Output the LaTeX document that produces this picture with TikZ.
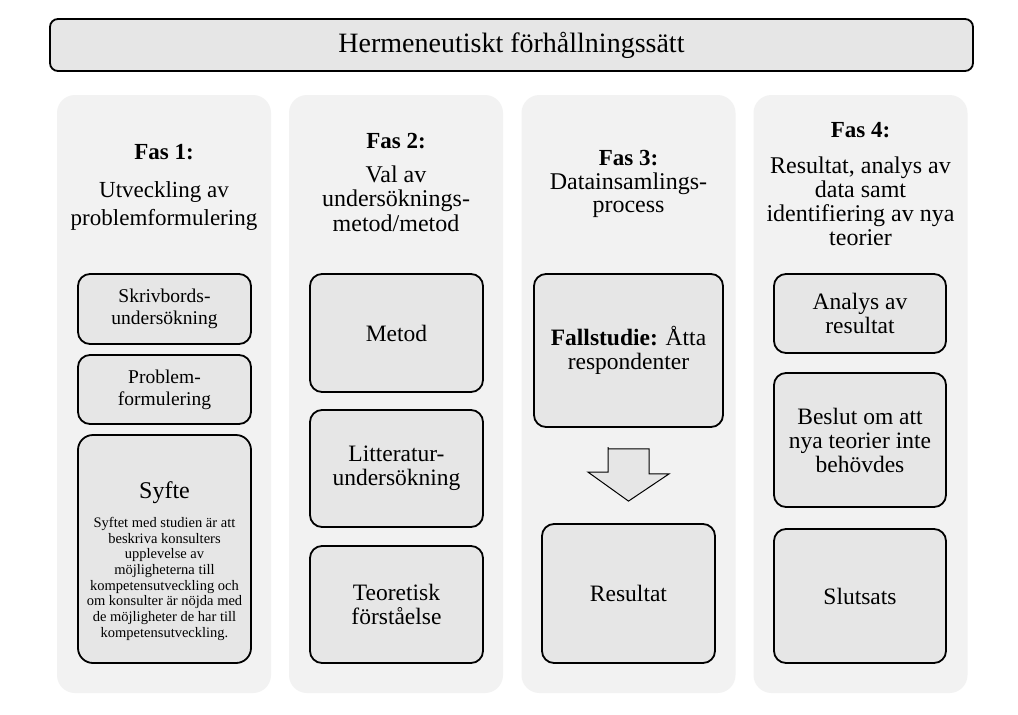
\documentclass[tikz,border=0pt]{standalone}
\usepackage{fontspec}
\setmainfont{Liberation Serif}
\usepackage{tikz}
\usetikzlibrary{positioning,calc}
\definecolor{panelgray}{HTML}{F2F2F2}
\definecolor{boxgray}{HTML}{E6E6E6}
\tikzset{
  kolumn/.style={fill=panelgray,rounded corners=18pt,minimum width=214pt,
            minimum height=598pt,inner sep=0pt},
  ruta/.style={draw,line width=1.8pt,fill=boxgray,rounded corners=12pt,
            align=center,inner sep=0pt,minimum width=173pt,
            font=\fontsize{23.5}{24}\selectfont},
  litenruta/.style={ruta,font=\fontsize{19.5}{22}\selectfont},
  rubrik/.style={anchor=base,inner sep=0pt,font=\fontsize{23}{24}\selectfont\bfseries},
  rubriktext/.style={anchor=north,inner sep=0pt,align=center},
  pil/.style={draw,line width=1pt,fill=boxgray,line join=miter},
}

\begin{document}
\begin{tikzpicture}[x=1pt,y=-1pt,every node/.style={font=\fontsize{24}{24}\selectfont}]
  \fill[white] (0,0) rectangle (1018,715);
  \useasboundingbox (0,0) rectangle (1018,715);
  \node[draw,line width=1.8pt,fill=boxgray,rounded corners=8pt,minimum width=923pt,
        minimum height=52pt,inner sep=0pt,font=\fontsize{28}{30}\selectfont]
        (titel) at (511.5,45) {Hermeneutiskt förhållningssätt};
  % the four phases
  \node[kolumn] (kol1) at (164,394) {};
  \node[kolumn] (kol2) at (396,394) {};
  \node[kolumn] (kol3) at (628.5,394) {};
  \node[kolumn] (kol4) at (860.5,394) {};
  \node[rubrik] (fas1) at (164,159) {Fas 1:};
  \node[rubriktext,font=\fontsize{23}{28}\selectfont] (fas1txt) at (164,181.3)
        {Utveckling av\\problemformulering};
  \node[rubrik] (fas2) at (396,148) {Fas 2:};
  \node[rubriktext,font=\fontsize{24}{24.5}\selectfont] (fas2txt) at (396,165.6)
        {Val av\\undersöknings-\\metod/metod};
  \node[rubrik] (fas3) at (628.5,165) {Fas 3:};
  \node[rubriktext,font=\fontsize{24}{23.5}\selectfont] (fas3txt) at (628.5,172.5)
        {Datainsamlings-\\process};
  \node[rubrik] (fas4) at (860.5,137) {Fas 4:};
  \node[rubriktext,font=\fontsize{24}{24}\selectfont] (fas4txt) at (860.5,156.6)
        {Resultat, analys av\\data samt\\identifiering av nya\\teorier};
  % phase 1
  \node[litenruta,minimum height=70pt] (skriv) at (164.5,309) {Skrivbords-\\undersökning};
  \node[litenruta,minimum height=69pt] (problem) at (164.5,389.5) {Problem-\\formulering};
  \node[ruta,minimum height=228pt,rounded corners=15pt] (syfte) at (164.5,549) {};
  \node[anchor=base,inner sep=0pt] (syftetitel) at (164.5,498) {Syfte};
  \node[rubriktext,font=\fontsize{14.5}{15.7}\selectfont] (syftetxt) at (164.5,517)
        {Syftet med studien är att\\beskriva konsulters\\upplevelse av\\möjligheterna till\\
         kompetensutveckling och\\om konsulter är nöjda med\\de möjligheter de har till\\
         kompetensutveckling.};
  % phase 2
  \node[ruta,minimum height=118pt] (metod) at (396.5,333) {Metod};
  \node[ruta,minimum height=117pt] (litt) at (396.5,468.5) {Litteratur-\\undersökning};
  \node[ruta,minimum height=117pt] (teori) at (396.5,604.5) {Teoretisk\\förståelse};
  % phase 3
  \node[ruta,minimum width=189pt,minimum height=153pt] (fall) at (628.5,350.5)
        {\textbf{Fallstudie:} Åtta\\respondenter};
  \node[ruta,minimum height=139pt] (resultat) at (628.5,593.5) {Resultat};
  \draw[pil] ($(fall.south)+(-20.5,21)$) -- ++(41,0) -- ++(0,25) -- ++(20,0)
        -- ($(resultat.north)+(0,-22)$) -- ++(-40.5,-29) -- ++(20,0) -- ++(0,-25) -- cycle;
  % phase 4
  \node[ruta,minimum width=172pt,minimum height=79pt] (analys) at (860,313.5) {Analys av\\resultat};
  \node[ruta,minimum width=172pt,minimum height=134pt] (beslut) at (860,440)
        {Beslut om att\\nya teorier inte\\behövdes};
  \node[ruta,minimum width=172pt,minimum height=134pt] (slutsats) at (860,596) {Slutsats};
\end{tikzpicture}
\end{document}
